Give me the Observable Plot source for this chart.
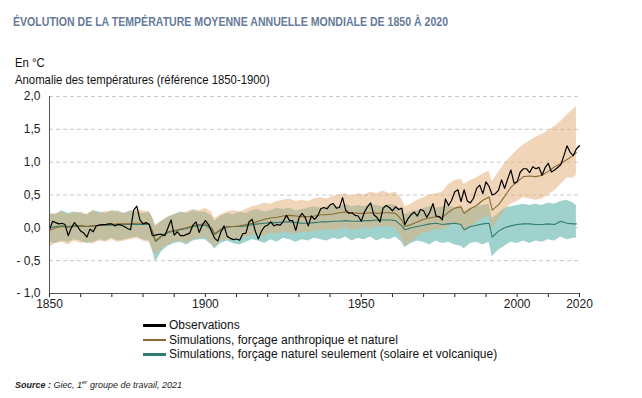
<!DOCTYPE html>
<html>
<head>
<meta charset="utf-8">
<script src="https://cdn.jsdelivr.net/npm/d3@7"></script>
<script src="https://cdn.jsdelivr.net/npm/@observablehq/plot@0.6"></script>
<style>
  body { margin:0; width:642px; height:398px; position:relative; background:#fff; overflow:hidden; font-family:"Liberation Sans", Arial, Helvetica, sans-serif; }
  .abs { position:absolute; white-space:nowrap; }
  #title { left:13px; top:15px; font-weight:bold; font-size:12.5px; color:#667a99; transform:scaleX(0.845); transform-origin:0 0; }
  #sub { left:15px; top:54px; font-size:13.5px; line-height:17px; color:#111; transform:scaleX(0.84); transform-origin:0 0; }
  #chart { left:0; top:86px; }
  #legend { left:143px; top:318px; font-size:12px; color:#111; }
  .row { height:14.5px; line-height:14.5px; display:flex; align-items:center; }
  .sw { display:inline-block; width:23px; height:2.5px; margin-right:3px; }
  #source { left:15px; top:379px; font-size:9px; font-style:italic; color:#222; }
  #source sup { font-size:6px; }
</style>
</head>
<body>
<div id="title" class="abs">ÉVOLUTION DE LA TEMPÉRATURE MOYENNE ANNUELLE MONDIALE DE 1850 À 2020</div>
<div id="sub" class="abs">En °C<br>Anomalie des températures (référence 1850-1900)</div>
<div id="chart" class="abs"></div>
<div id="legend" class="abs"></div>
<div id="source" class="abs"><b>Source :</b> Giec, 1<sup>er</sup> groupe de travail, 2021</div>
<script>
// ---- Observations (annual, 1850 → 2020) ----
const obsFirstYear = 1850;
const obsValues = [
  -0.03, 0.10, 0.08, 0.06, 0.07, 0.05, -0.12, 0.00, 0.08, 0.02,   // 1850s
  -0.05, -0.08, -0.14, -0.02, -0.06, 0.03, 0.04, 0.05, 0.05, 0.06, // 1860s
  0.06, 0.03, 0.05, 0.04, 0.02, -0.01, -0.03, 0.27, 0.33, 0.12,    // 1870s
  0.06, 0.08, 0.05, -0.12, -0.11, -0.10, -0.10, -0.12, 0.00, 0.12, // 1880s
  -0.11, -0.06, -0.12, -0.12, -0.10, -0.08, 0.04, 0.09, -0.07, 0.04, // 1890s
  0.11, 0.05, -0.06, -0.16, -0.20, -0.06, 0.03, -0.13, -0.16, -0.18, // 1900s
  -0.17, -0.19, -0.09, -0.08, 0.09, 0.13, -0.05, -0.17, -0.05, 0.02, // 1910s
  0.04, 0.09, 0.03, 0.05, 0.04, 0.10, 0.19, 0.11, 0.11, -0.04,     // 1920s
  0.15, 0.22, 0.16, 0.03, 0.18, 0.13, 0.18, 0.29, 0.31, 0.29,      // 1930s
  0.35, 0.37, 0.30, 0.31, 0.46, 0.27, 0.22, 0.23, 0.19, 0.18,      // 1940s
  0.10, 0.24, 0.32, 0.38, 0.20, 0.16, 0.09, 0.30, 0.34, 0.31,      // 1950s
  0.26, 0.32, 0.28, 0.30, 0.05, 0.14, 0.20, 0.24, 0.18, 0.28,      // 1960s
  0.26, 0.16, 0.24, 0.37, 0.18, 0.17, 0.12, 0.44, 0.34, 0.42,      // 1970s
  0.55, 0.58, 0.40, 0.58, 0.41, 0.38, 0.45, 0.60, 0.65, 0.52,      // 1980s
  0.70, 0.63, 0.50, 0.52, 0.57, 0.73, 0.60, 0.75, 0.88, 0.68,      // 1990s
  0.70, 0.85, 0.90, 0.90, 0.84, 0.93, 0.90, 0.92, 0.80, 0.92,      // 2000s
  0.98, 0.85, 0.88, 0.92, 0.96, 1.10, 1.25, 1.15, 1.10, 1.20,      // 2010s
  1.25                                                            // 2020
];

// ---- Simulations ----
const simYears = [
  1850, 1852, 1854, 1856, 1858, 1860, 1862, 1864, 1866, 1868,
  1870, 1872, 1874, 1876, 1878, 1880, 1882, 1883, 1884, 1886,
  1888, 1890, 1892, 1894, 1896, 1898, 1900, 1902, 1903, 1905,
  1907, 1909, 1911, 1913, 1915, 1917, 1919, 1921, 1923, 1925,
  1927, 1929, 1931, 1933, 1935, 1937, 1939, 1941, 1943, 1945,
  1947, 1949, 1951, 1953, 1955, 1957, 1959, 1961, 1963, 1964,
  1966, 1968, 1970, 1972, 1974, 1976, 1978, 1980, 1982, 1983,
  1985, 1987, 1989, 1991, 1992, 1994, 1996, 1998, 2000, 2002,
  2004, 2006, 2008, 2010, 2012, 2014, 2016, 2018, 2019
];
// anthropogenic + natural forcing: mean, low, high
const anthroMean = [
  -0.04, 0.00, 0.02, 0.01, 0.02, 0.03, 0.02, 0.03, 0.04, 0.05,
  0.05, 0.06, 0.06, 0.06, 0.07, 0.07, 0.06, -0.05, -0.20, -0.12,
  -0.06, -0.04, -0.02, 0.00, 0.03, 0.05, 0.06, 0.00, -0.09, -0.02,
  0.02, 0.02, 0.03, 0.05, 0.07, 0.10, 0.13, 0.15, 0.16, 0.18,
  0.19, 0.18, 0.17, 0.17, 0.18, 0.20, 0.20, 0.21, 0.23, 0.24,
  0.23, 0.22, 0.22, 0.23, 0.22, 0.23, 0.23, 0.22, 0.12, 0.02,
  0.05, 0.09, 0.13, 0.15, 0.17, 0.16, 0.24, 0.30, 0.32, 0.22,
  0.29, 0.34, 0.42, 0.47, 0.27, 0.35, 0.48, 0.62, 0.70, 0.78,
  0.79, 0.78, 0.80, 0.86, 0.93, 0.98, 1.04, 1.10, 1.15
];
const anthroLow = [
  -0.30, -0.24, -0.22, -0.26, -0.20, -0.24, -0.22, -0.25, -0.20, -0.22,
  -0.18, -0.22, -0.20, -0.18, -0.16, -0.20, -0.22, -0.32, -0.42, -0.32,
  -0.26, -0.22, -0.20, -0.24, -0.18, -0.16, -0.14, -0.24, -0.30, -0.20,
  -0.18, -0.20, -0.16, -0.14, -0.12, -0.10, -0.14, -0.08, -0.10, -0.06,
  -0.08, -0.10, -0.06, -0.08, -0.04, -0.06, -0.02, -0.04, -0.02, 0.00,
  -0.04, -0.02, 0.00, -0.02, 0.02, 0.00, 0.03, 0.00, -0.15, -0.28,
  -0.22, -0.14, -0.08, -0.06, -0.02, -0.04, 0.02, 0.06, 0.04, -0.08,
  0.02, 0.08, 0.14, 0.18, -0.02, 0.12, 0.26, 0.36, 0.40, 0.46,
  0.44, 0.42, 0.44, 0.50, 0.56, 0.66, 0.76, 0.76, 0.80
];
const anthroHigh = [
  0.20, 0.22, 0.24, 0.20, 0.22, 0.24, 0.20, 0.26, 0.22, 0.25,
  0.24, 0.26, 0.22, 0.25, 0.28, 0.26, 0.24, 0.16, 0.04, 0.10,
  0.16, 0.20, 0.22, 0.24, 0.28, 0.26, 0.30, 0.24, 0.14, 0.20,
  0.24, 0.26, 0.24, 0.28, 0.32, 0.34, 0.38, 0.36, 0.40, 0.42,
  0.44, 0.40, 0.42, 0.40, 0.44, 0.46, 0.44, 0.48, 0.50, 0.52,
  0.48, 0.52, 0.50, 0.54, 0.52, 0.56, 0.52, 0.54, 0.44, 0.32,
  0.36, 0.42, 0.46, 0.50, 0.52, 0.54, 0.66, 0.72, 0.74, 0.66,
  0.72, 0.76, 0.82, 0.86, 0.70, 0.84, 0.98, 1.08, 1.18, 1.26,
  1.32, 1.38, 1.42, 1.48, 1.54, 1.62, 1.72, 1.80, 1.85
];
// natural forcing only: mean, low, high
const naturalMean = [
  0.00, 0.02, 0.03, 0.02, 0.03, 0.03, 0.02, 0.03, 0.04, 0.04,
  0.04, 0.05, 0.05, 0.05, 0.05, 0.05, 0.05, -0.06, -0.21, -0.13,
  -0.07, -0.05, -0.03, -0.01, 0.02, 0.03, 0.04, -0.02, -0.10, -0.03,
  0.01, 0.02, 0.02, 0.03, 0.05, 0.06, 0.07, 0.08, 0.08, 0.09,
  0.09, 0.08, 0.07, 0.07, 0.08, 0.09, 0.09, 0.10, 0.10, 0.11,
  0.10, 0.10, 0.11, 0.11, 0.12, 0.12, 0.12, 0.11, 0.03, -0.03,
  0.00, 0.02, 0.04, 0.06, 0.07, 0.05, 0.06, 0.07, 0.05, -0.03,
  0.02, 0.04, 0.06, 0.07, -0.14, -0.05, 0.00, 0.03, 0.05, 0.06,
  0.06, 0.05, 0.05, 0.06, 0.05, 0.10, 0.07, 0.06, 0.06
];
const naturalLow = [
  -0.22, -0.24, -0.20, -0.22, -0.18, -0.20, -0.24, -0.22, -0.18, -0.20,
  -0.16, -0.20, -0.18, -0.16, -0.14, -0.18, -0.20, -0.34, -0.52, -0.36,
  -0.28, -0.24, -0.22, -0.26, -0.20, -0.18, -0.18, -0.26, -0.32, -0.24,
  -0.20, -0.24, -0.26, -0.22, -0.18, -0.20, -0.24, -0.18, -0.22, -0.16,
  -0.18, -0.22, -0.18, -0.20, -0.16, -0.18, -0.20, -0.16, -0.18, -0.14,
  -0.20, -0.16, -0.18, -0.14, -0.20, -0.16, -0.18, -0.14, -0.22, -0.30,
  -0.24, -0.20, -0.22, -0.26, -0.20, -0.24, -0.22, -0.26, -0.28, -0.32,
  -0.24, -0.22, -0.26, -0.22, -0.44, -0.34, -0.28, -0.22, -0.24, -0.20,
  -0.24, -0.20, -0.22, -0.18, -0.20, -0.14, -0.18, -0.16, -0.16
];
const naturalHigh = [
  0.22, 0.20, 0.26, 0.22, 0.24, 0.22, 0.20, 0.26, 0.24, 0.22,
  0.26, 0.24, 0.22, 0.26, 0.24, 0.22, 0.24, 0.16, 0.02, 0.10,
  0.16, 0.20, 0.24, 0.22, 0.26, 0.24, 0.24, 0.18, 0.10, 0.18,
  0.22, 0.20, 0.24, 0.22, 0.26, 0.28, 0.24, 0.26, 0.30, 0.28,
  0.30, 0.26, 0.28, 0.30, 0.32, 0.30, 0.32, 0.34, 0.32, 0.36,
  0.32, 0.34, 0.32, 0.36, 0.34, 0.32, 0.36, 0.34, 0.26, 0.20,
  0.24, 0.26, 0.30, 0.32, 0.30, 0.32, 0.34, 0.30, 0.34, 0.24,
  0.30, 0.32, 0.34, 0.36, 0.14, 0.22, 0.30, 0.32, 0.34, 0.36,
  0.34, 0.36, 0.34, 0.38, 0.36, 0.40, 0.42, 0.38, 0.34
];

// ---- Axis ticks and labels ----
const yTicks = [-1, -0.5, 0, 0.5, 1, 1.5, 2];
const xTicks = [1850, 1860, 1870, 1880, 1890, 1900, 1910, 1920, 1930, 1940, 1950, 1960, 1970, 1980, 1990, 2000, 2010, 2020];
const xLabels = [1850, 1900, 1950, 2000, 2020];
const seriesNames = ["Observations", "Simulations, forçage anthropique et naturel", "Simulations, forçage naturel seulement (solaire et volcanique)"];
const seriesColors = ["#000000", "#8c6a32", "#2f7c72"];

// ---- Build tables ----
const obs = obsValues.map((v, i) => ({year: obsFirstYear + i, value: v}));
const sims = simYears.map((yr, i) => ({
  year: yr,
  aMean: anthroMean[i], aLow: anthroLow[i], aHigh: anthroHigh[i],
  nMean: naturalMean[i], nLow: naturalLow[i], nHigh: naturalHigh[i]
}));

const fmt = v => {
  const s = Math.abs(v).toFixed(1).replace(".", ",");
  return v < 0 ? "- " + s : s;
};

const chart = Plot.plot({
  width: 642,
  height: 230,
  marginLeft: 49,
  marginRight: 63,
  marginTop: 10,
  marginBottom: 23,
  style: {fontFamily: '"Liberation Sans", Arial, sans-serif', fontSize: "12px", color: "#222", background: "transparent"},
  x: {domain: [1850, 2020], ticks: xTicks, tickFormat: d => xLabels.includes(d) ? String(d) : "", tickSize: 4, tickPadding: 2, label: null},
  y: {domain: [-1, 2], ticks: yTicks, tickFormat: fmt, tickSize: 0, tickPadding: 9, label: null},
  marks: [
    Plot.ruleY(yTicks.filter(d => d > -1), {stroke: "#c8c8c8", strokeDasharray: "4,3", strokeWidth: 1}),
    Plot.areaY(sims, {x: "year", y1: "nLow", y2: "nHigh", fill: "rgb(160,210,205)"}),
    Plot.areaY(sims, {x: "year", y1: "aLow", y2: "aHigh", fill: "rgb(225,172,115)", fillOpacity: 0.5}),
    Plot.lineY(sims, {x: "year", y: "nMean", stroke: seriesColors[2], strokeWidth: 1.1}),
    Plot.lineY(sims, {x: "year", y: "aMean", stroke: seriesColors[1], strokeWidth: 1.1}),
    Plot.lineY(obs, {x: "year", y: "value", stroke: seriesColors[0], strokeWidth: 1.2}),
    Plot.ruleX([1850], {stroke: "#555", strokeWidth: 1}),
    Plot.ruleY([-1], {stroke: "#555", strokeWidth: 1})
  ]
});
document.getElementById("chart").appendChild(chart);

const legend = document.getElementById("legend");
seriesNames.forEach((name, i) => {
  const row = document.createElement("div");
  row.className = "row";
  const sw = document.createElement("span");
  sw.className = "sw";
  sw.style.background = seriesColors[i];
  row.appendChild(sw);
  row.appendChild(document.createTextNode(name));
  legend.appendChild(row);
});
</script>
</body>
</html>
